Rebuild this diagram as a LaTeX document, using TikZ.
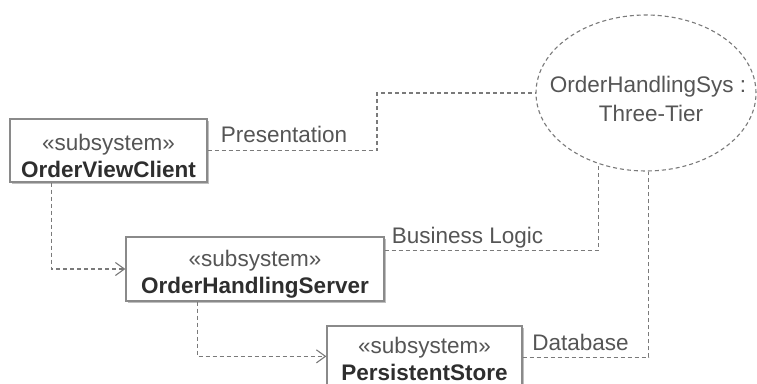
\documentclass[tikz,border=0pt]{standalone}
\usepackage{fontspec}
\setmainfont{Liberation Sans}
\usetikzlibrary{arrows.meta,shapes.geometric,calc,shadows}
\definecolor{txt}{HTML}{555555}
\definecolor{boldtxt}{HTML}{2E2E2E}
\definecolor{edge}{HTML}{8A8A8A}
\definecolor{lnk}{HTML}{7A7A7A}
\begin{document}
\begin{tikzpicture}[x=1pt,y=-1pt,
 every node/.style={font=\fontsize{22.5}{27}\selectfont, text=txt, inner sep=0pt},
 subsys/.style={draw=edge, line width=1.3pt, fill=white, rectangle,
   drop shadow={shadow xshift=1.5pt, shadow yshift=-2pt, fill=black!25, opacity=1}},
 stereo/.style={anchor=base},
 bname/.style={anchor=base, font=\fontsize{22.5}{27}\selectfont\bfseries, text=boldtxt},
 lbl/.style={anchor=base},
 dep/.style={draw=lnk, line width=1.1pt, dash pattern=on 4pt off 3pt},
 arr/.style={dep, -{Straight Barb[length=9pt,width=13pt,line width=1.1pt]}},
 sysell/.style={ellipse, draw=lnk, line width=1.1pt, dash pattern=on 4pt off 3pt}]
\useasboundingbox (0,0) rectangle (757,383);
\fill[white] (0,0) rectangle (757,383);

% boxes
\node[subsys, minimum width=197pt, minimum height=63pt] (ovc) at (108.5,150.5) {};
\node[subsys, minimum width=258pt, minimum height=64pt] (ohs) at (255,269) {};
\node[subsys, minimum width=195pt, minimum height=76pt] (ps) at (424.5,364) {};
\node[sysell, minimum width=220pt, minimum height=156pt] (sys) at (646,93) {};

% box texts
\node[stereo] (ovcs) at (108.5,150) {«subsystem»};
\node[bname]  (ovcn) at (108.5,177) {OrderViewClient};
\node[stereo] (ohss) at (255,266) {«subsystem»};
\node[bname]  (ohsn) at (255,293) {OrderHandlingServer};
\node[stereo] (pss) at (424.5,353) {«subsystem»};
\node[bname]  (psn) at (424.5,380) {PersistentStore};
\node[anchor=base] (sys1) at (648,92) {OrderHandlingSys :};
\node[anchor=base] (sys2) at (651,121) {Three-Tier};

% connector labels
\node[lbl] (lp) at (284,142) {Presentation};
\node[lbl] (lb) at (467.5,243) {Business Logic};
\node[lbl] (ld) at (580.5,350) {Database};

\coordinate (k1) at (377,0);
\coordinate (bstart) at ($(ohs.north east)+(0,14)$);
\coordinate (dstart) at ($(ps.north east)+(0,32)$);

\draw[dep] (ovc.east) -- (ovc.east -| k1) |- (sys.west);
\draw[dep] (bstart) -| (sys.236.4);
\draw[dep] (dstart) -| (sys.272);

\draw[arr] ($(ovc.south west)+(42,0)$) |- (ohs.west);
\draw[arr] ($(ohs.south west)+(72,0)$) |- ($(ps.north west)+(0,31)$);
\end{tikzpicture}
\end{document}
